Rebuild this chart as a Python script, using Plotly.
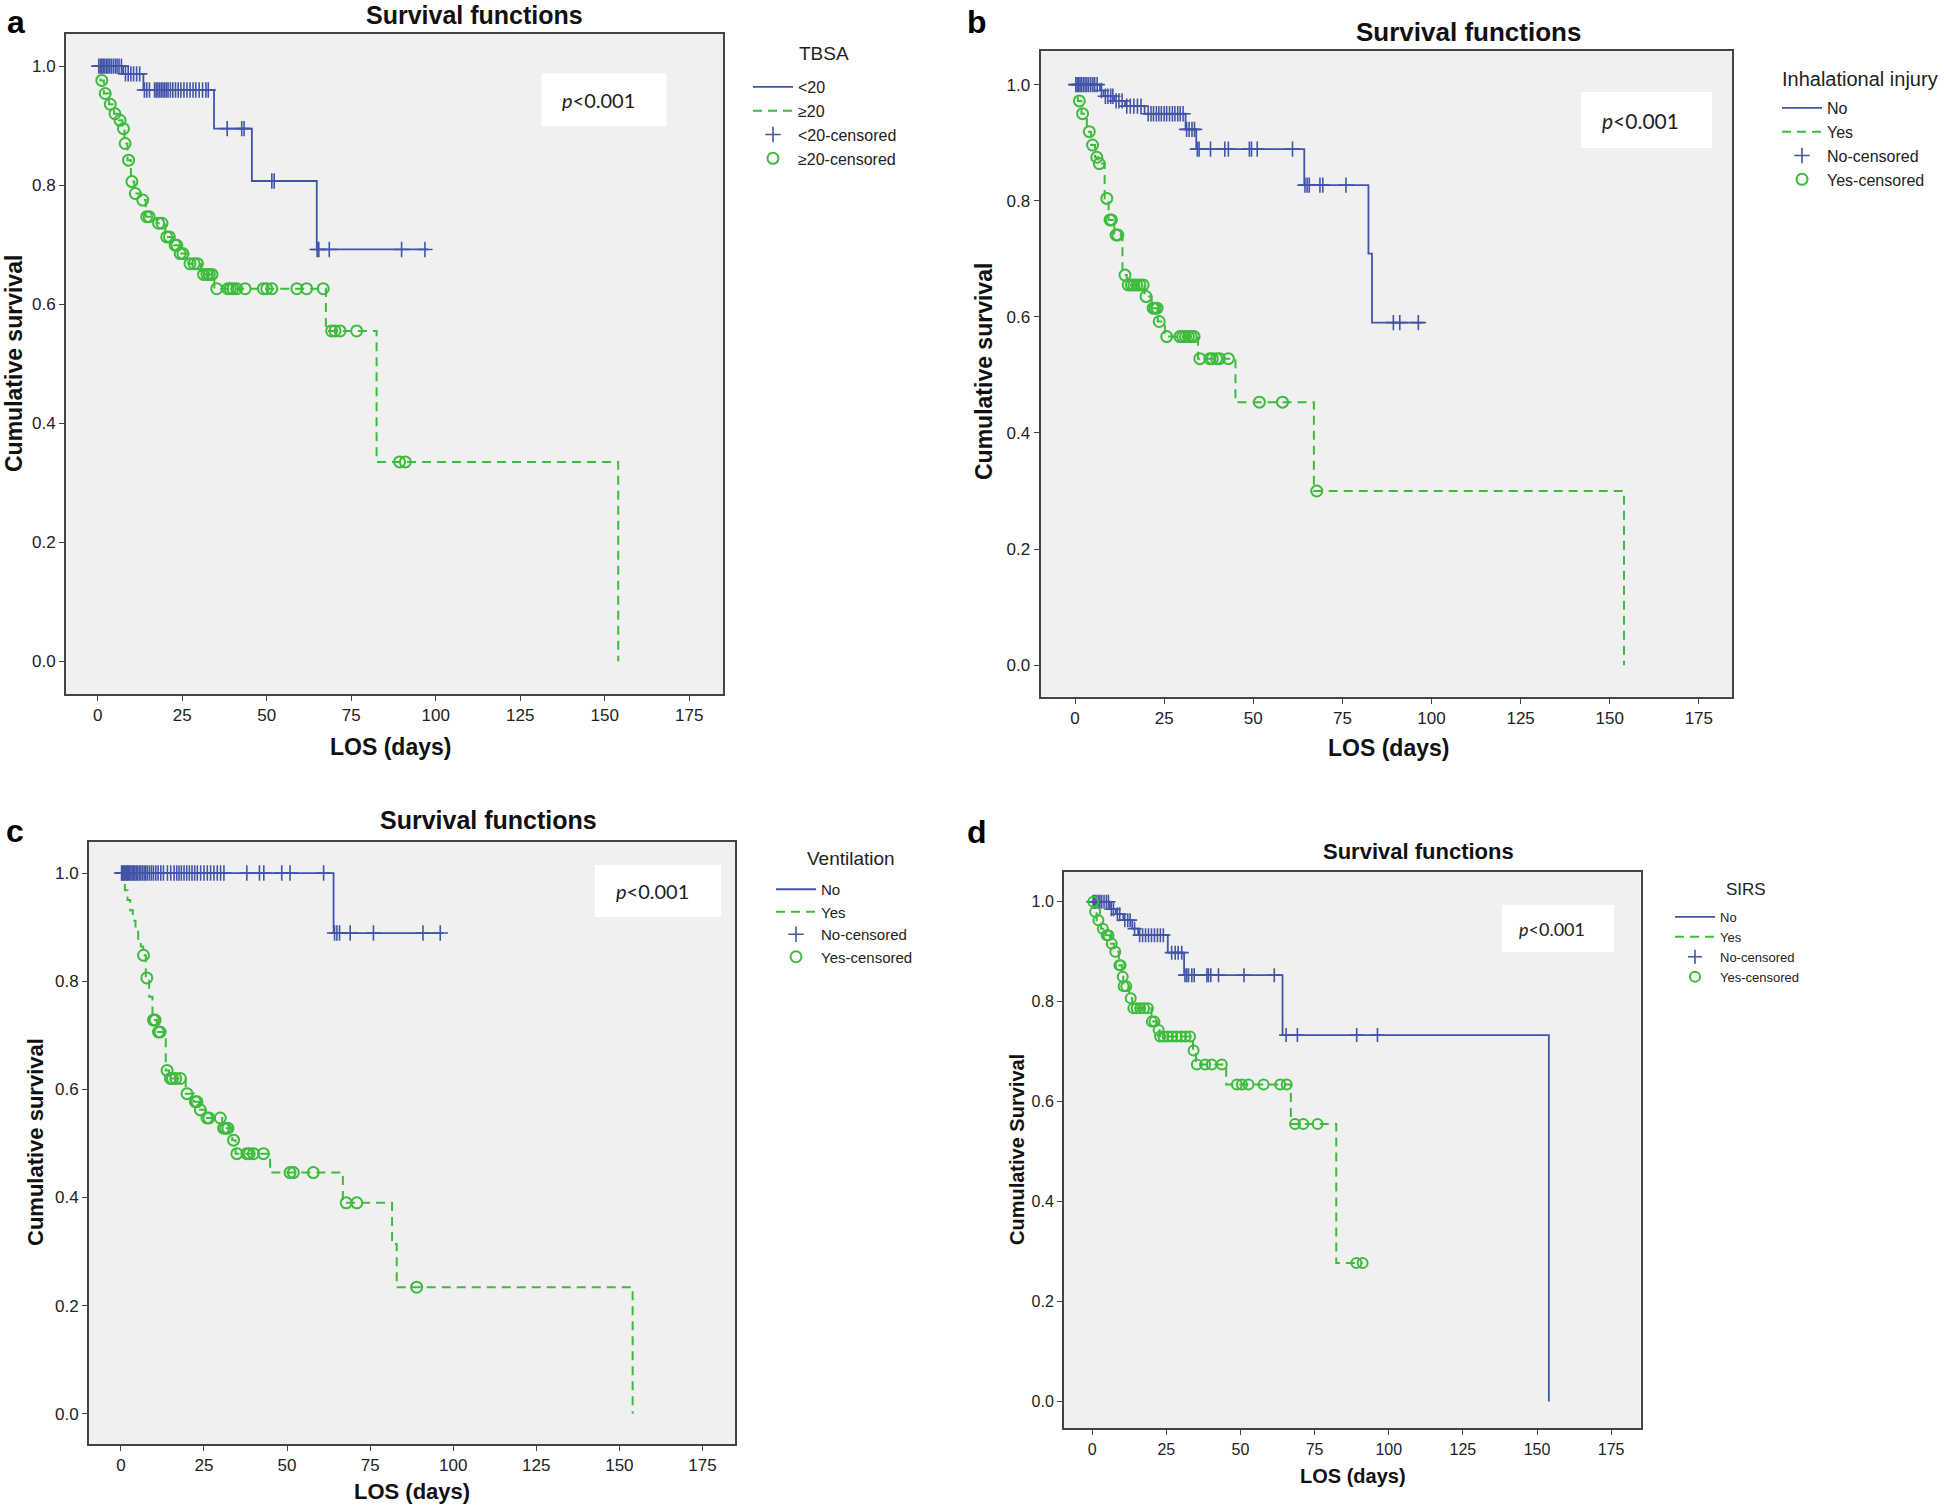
import plotly.graph_objects as go

W, H = 1946, 1508
FONT = "Liberation Sans, Arial, sans-serif"
BLUE = "#4254A8"
GREEN = "#3DBB3D"

# ---------------- data ----------------
# Panel a : TBSA
a_lt20_t = [7.5, 13.5, 34.4, 45.6, 64.8]
a_lt20_s = [0.987, 0.960, 0.895, 0.807, 0.692]
a_lt20_end = 97.7
a_lt20_cens = [0.3, 0.8, 1.2, 1.6, 2.1, 2.6, 3.0, 3.5, 4.0, 4.6, 5.2, 5.7, 6.3, 7.0,
               8.2, 9.0, 9.8, 10.6, 11.5, 12.4, 13.8, 14.5, 15.3, 16.8, 17.3, 17.8,
               18.3, 18.8, 19.3, 19.8, 20.3, 20.8, 21.5, 22.2, 23.0, 23.8, 24.6, 25.5,
               26.4, 27.3, 28.2, 29.0, 30.0, 31.0, 32.0, 32.7, 38.3, 42.6, 43.3, 51.5,
               52.2, 64.9, 65.4, 68.5, 89.9, 96.8]
a_ge20_t = [0.8, 1.8, 3.3, 4.8, 6.2, 7.3, 7.9, 8.8, 9.8, 10.8, 12.8, 14.2, 17.5, 20.0,
            22.5, 24.0, 26.8, 30.5, 34.5, 67.5, 82.5, 154.0]
a_ge20_s = [0.976, 0.954, 0.936, 0.920, 0.909, 0.895, 0.870, 0.842, 0.806, 0.786, 0.775,
            0.747, 0.736, 0.713, 0.699, 0.685, 0.668, 0.650, 0.626, 0.555, 0.335, 0.0]
a_ge20_end = 154.0
a_ge20_cens = [1.2, 2.2, 3.7, 5.1, 6.6, 7.6, 8.1, 9.1, 10.1, 11.1, 13.3, 14.5, 15.2, 18.0,
               19.0, 20.4, 21.2, 22.9, 23.4, 24.4, 25.2, 27.3, 28.5, 29.5, 31.3, 32.3,
               33.0, 33.8, 35.2, 38.5, 39.2, 40.0, 41.1, 43.6, 49.0, 50.0, 51.5, 58.9,
               61.8, 66.7, 69.2, 70.2, 71.7, 76.6, 89.3, 91.0]

# Panel b : Inhalational injury
b_no_t = [7.0, 8.0, 11.0, 14.0, 19.5, 31.0, 34.0, 64.3, 82.3, 83.3]
b_no_s = [0.990, 0.980, 0.972, 0.963, 0.950, 0.923, 0.889, 0.827, 0.709, 0.590]
b_no_end = 97.7
b_no_cens = [0.2, 0.6, 1.0, 1.4, 1.8, 2.3, 2.8, 3.3, 3.8, 4.4, 5.0, 5.5, 6.2, 7.4, 8.5,
             9.2, 10.0, 10.6, 11.5, 12.3, 13.2, 14.5, 15.5, 16.5, 17.5, 18.5, 20.5, 21.3,
             22.0, 22.8, 23.5, 24.2, 25.0, 25.7, 26.5, 27.3, 28.0, 28.8, 29.5, 30.3,
             31.3, 32.0, 32.8, 33.5, 34.3, 34.8, 38.0, 42.0, 43.0, 48.9, 49.5, 51.1,
             61.0, 64.5, 65.1, 65.7, 68.7, 69.5, 76.0, 89.3, 91.1, 96.3]
b_yes_t = [0.8, 1.8, 3.3, 4.5, 5.6, 6.5, 8.3, 9.4, 11.0, 13.3, 14.5, 19.5, 21.5, 23.2,
           25.2, 34.5, 45.0, 67.0, 154.0]
b_yes_s = [0.972, 0.950, 0.919, 0.896, 0.875, 0.864, 0.804, 0.767, 0.741, 0.672, 0.655,
           0.635, 0.615, 0.592, 0.566, 0.528, 0.453, 0.300, 0.0]
b_yes_end = 154.0
b_yes_cens = [1.2, 2.1, 4.0, 4.9, 6.1, 6.8, 8.9, 9.8, 10.2, 11.5, 12.0, 14.0, 14.9, 15.8,
              16.5, 17.3, 18.2, 19.1, 19.9, 21.9, 22.4, 23.0, 23.6, 25.7, 29.4, 30.2,
              31.0, 31.8, 32.6, 33.4, 35.0, 37.8, 38.5, 39.7, 40.5, 43.0, 51.7, 58.2, 67.8]

# Panel c : Ventilation
c_no_t = [64.0]
c_no_s = [0.889]
c_no_end = 97.0
c_no_cens = [0.2, 0.5, 0.8, 1.1, 1.4, 1.7, 2.0, 2.3, 2.6, 3.0, 3.4, 3.8, 4.2, 4.6, 5.0,
             5.5, 6.0, 6.5, 7.0, 7.5, 8.0, 8.6, 9.2, 9.8, 10.5, 11.2, 12.0, 12.8, 14.0,
             15.0, 16.0, 16.8, 17.5, 18.2, 19.0, 19.8, 20.6, 21.4, 22.2, 23.0, 24.0,
             25.0, 26.0, 27.0, 28.0, 29.0, 30.0, 31.0, 37.9, 41.7, 43.0, 48.4, 50.9,
             61.0, 64.3, 65.0, 65.8, 69.0, 76.0, 90.9, 96.1]
c_yes_t = [0.4, 1.2, 2.0, 2.8, 3.6, 4.4, 5.2, 6.0, 6.7, 7.5, 8.5, 9.5, 10.8, 13.5, 14.5,
           19.5, 22.0, 23.5, 25.5, 30.5, 33.5, 34.5, 44.9, 66.8, 81.6, 83.0, 154.0]
c_yes_s = [0.985, 0.968, 0.950, 0.931, 0.912, 0.895, 0.878, 0.864, 0.848, 0.806, 0.771,
           0.728, 0.706, 0.635, 0.620, 0.592, 0.577, 0.562, 0.547, 0.528, 0.506, 0.481,
           0.446, 0.390, 0.314, 0.234, 0.0]
c_yes_end = 154.0
c_yes_cens = [6.8, 7.8, 9.8, 10.3, 11.3, 11.8, 13.9, 14.9, 15.5, 16.5, 17.9, 19.9, 22.4,
              22.9, 23.9, 25.9, 26.5, 29.9, 30.9, 31.5, 32.2, 33.9, 34.9, 37.9, 38.6,
              39.9, 42.9, 50.9, 51.9, 57.9, 67.8, 71.0, 89.0]

# Panel d : SIRS
d_no_t = [6.0, 8.0, 10.5, 13.5, 15.5, 25.5, 31.0, 64.2, 154.0]
d_no_s = [0.985, 0.975, 0.963, 0.946, 0.933, 0.898, 0.853, 0.733, 0.0]
d_no_end = 154.0
d_no_cens = [0.3, 0.8, 1.3, 2.0, 2.6, 3.2, 4.0, 4.8, 5.5, 6.5, 7.2, 8.5, 9.3, 11.0, 12.0,
             12.8, 14.3, 16.0, 17.0, 18.0, 19.0, 20.0, 21.0, 22.0, 23.0, 24.0, 26.8,
             28.0, 29.0, 30.2, 31.3, 31.9, 32.5, 33.6, 34.4, 38.7, 39.2, 40.0, 42.6,
             51.2, 61.4, 65.4, 69.2, 89.2, 96.2]
d_yes_t = [0.7, 1.5, 3.0, 4.5, 6.0, 7.5, 9.0, 10.0, 10.5, 12.5, 13.5, 20.0, 22.0, 22.7,
           34.0, 35.0, 45.2, 67.0, 82.3]
d_yes_s = [0.980, 0.963, 0.946, 0.933, 0.916, 0.900, 0.873, 0.850, 0.831, 0.807, 0.787,
           0.760, 0.743, 0.730, 0.702, 0.674, 0.634, 0.555, 0.277]
d_yes_end = 91.2
d_yes_cens = [0.4, 1.0, 2.1, 3.6, 4.9, 5.5, 6.6, 7.8, 9.2, 9.6, 10.3, 10.6, 11.5, 13.0,
              13.9, 15.0, 16.2, 17.5, 18.8, 20.1, 21.0, 22.4, 22.9, 24.0, 25.5, 27.0,
              28.5, 30.0, 31.5, 33.0, 34.2, 35.3, 38.1, 40.3, 43.7, 48.8, 50.5, 52.7,
              57.8, 63.4, 65.6, 68.4, 71.2, 76.0, 89.1, 91.2]

x_ticks = [0, 25, 50, 75, 100, 125, 150, 175]
y_ticks = [0.0, 0.2, 0.4, 0.6, 0.8, 1.0]


# ---------------- helpers ----------------
def step_xy(ts, ss, t_end):
    xs = [0.0] + list(ts)
    ys = [1.0] + list(ss)
    if t_end > xs[-1]:
        xs.append(t_end)
        ys.append(ys[-1])
    return xs, ys


def surv_at(t, ts, ss):
    s = 1.0
    for te, se in zip(ts, ss):
        if te <= t:
            s = se
    return s


def px_x(p):
    return p / W


def px_y(p):
    return 1 - p / H


panels = [
    dict(key="", legend="legend", group="TBSA",
         names=["&lt;20", "≥20", "&lt;20-censored", "≥20-censored"],
         g1=(a_lt20_t, a_lt20_s, a_lt20_end, a_lt20_cens),
         g2=(a_ge20_t, a_ge20_s, a_ge20_end, a_ge20_cens),
         box=(66, 723, 34, 694), xr=[-9.4, 185.0], yr=[-0.055, 1.054],
         letter=(16, 22), title=(474, 15), ytitle_pos=(14, 364), xtitle_pos=(390, 747),
         ytitle="Cumulative survival", pbox=(604, 99.7, 125, 53), pfont=20,
         leg=(748, 70), legt=(824, 53), fs=17, lfs=16, ltfs=19, tfs=25, afs=23, ms=11),
    dict(key="2", legend="legend2", group="Inhalational injury",
         names=["No", "Yes", "No-censored", "Yes-censored"],
         g1=(b_no_t, b_no_s, b_no_end, b_no_cens),
         g2=(b_yes_t, b_yes_s, b_yes_end, b_yes_cens),
         box=(1040.5, 1732, 51, 696.5), xr=[-9.7, 184.3], yr=[-0.054, 1.058],
         letter=(977, 22), title=(1468, 32), ytitle_pos=(984, 372), xtitle_pos=(1388, 748),
         ytitle="Cumulative survival", pbox=(1646.5, 120, 131, 56), pfont=21,
         leg=(1777, 91), legt=(1860, 79), fs=17, lfs=16, ltfs=20, tfs=26, afs=23, ms=11),
    dict(key="3", legend="legend3", group="Ventilation",
         names=["No", "Yes", "No-censored", "Yes-censored"],
         g1=(c_no_t, c_no_s, c_no_end, c_no_cens),
         g2=(c_yes_t, c_yes_s, c_yes_end, c_yes_cens),
         box=(89, 735, 841.7, 1444), xr=[-9.6, 184.8], yr=[-0.056, 1.058],
         letter=(15, 831), title=(488, 820), ytitle_pos=(35, 1142), xtitle_pos=(412, 1491),
         ytitle="Cumulative survival", pbox=(658, 891, 126, 52), pfont=20,
         leg=(771, 873), legt=(851, 859), fs=17, lfs=15, ltfs=19, tfs=25, afs=22, ms=11),
    dict(key="4", legend="legend4", group="SIRS",
         names=["No", "Yes", "No-censored", "Yes-censored"],
         g1=(d_no_t, d_no_s, d_no_end, d_no_cens),
         g2=(d_yes_t, d_yes_s, d_yes_end, d_yes_cens),
         box=(1064, 1640.5, 872.2, 1428.4), xr=[-9.5, 184.9], yr=[-0.054, 1.059],
         letter=(977, 832), title=(1418, 851), ytitle_pos=(1017, 1150), xtitle_pos=(1353, 1476),
         ytitle="Cumulative Survival", pbox=(1558, 928.5, 112, 47), pfont=18,
         leg=(1670, 902), legt=(1746, 889), fs=16, lfs=13, ltfs=17, tfs=22, afs=20, ms=10),
]

fig = go.Figure()
layout = dict(
    width=W, height=H,
    margin=dict(l=0, r=0, t=0, b=0),
    paper_bgcolor="white",
    plot_bgcolor="#F0F0F0",
    font=dict(family=FONT, color="#222"),
    annotations=[],
    shapes=[],
)

for i, p in enumerate(panels):
    xa = "x" + p["key"]
    ya = "y" + p["key"]
    t1, s1, e1, c1 = p["g1"]
    t2, s2, e2, c2 = p["g2"]
    x1, y1 = step_xy(t1, s1, e1)
    x2, y2 = step_xy(t2, s2, e2)
    ms = p["ms"]
    fig.add_trace(go.Scatter(x=x1, y=y1, mode="lines", line_shape="hv",
                             line=dict(color=BLUE, width=1.8), name=p["names"][0],
                             xaxis=xa, yaxis=ya, legend=p["legend"]))
    fig.add_trace(go.Scatter(x=x2, y=y2, mode="lines", line_shape="hv",
                             line=dict(color=GREEN, width=2, dash="9px,6px"),
                             name=p["names"][1], xaxis=xa, yaxis=ya, legend=p["legend"]))
    fig.add_trace(go.Scatter(x=c1, y=[surv_at(t, t1, s1) for t in c1], mode="markers",
                             marker=dict(symbol="cross-thin-open", size=ms, color=BLUE,
                                         line=dict(color=BLUE, width=1.6)),
                             name=p["names"][2], xaxis=xa, yaxis=ya, legend=p["legend"]))
    fig.add_trace(go.Scatter(x=c2, y=[surv_at(t, t2, s2) for t in c2], mode="markers",
                             marker=dict(symbol="circle-open", size=ms, color=GREEN,
                                         line=dict(color=GREEN, width=2)),
                             name=p["names"][3], xaxis=xa, yaxis=ya, legend=p["legend"]))

    l, r, t, b = p["box"]
    axcommon = dict(showgrid=False, zeroline=False, showline=True, mirror=True,
                    linecolor="#444", linewidth=2, ticks="outside", ticklen=5,
                    tickcolor="#444", tickwidth=1,
                    tickfont=dict(family=FONT, size=p["fs"], color="#222"))
    layout["xaxis" + p["key"]] = dict(axcommon, domain=[px_x(l), px_x(r)], range=p["xr"],
                                      tickvals=x_ticks, anchor=ya)
    layout["yaxis" + p["key"]] = dict(axcommon, domain=[px_y(b), px_y(t)], range=p["yr"],
                                      tickvals=y_ticks, tickformat=".1f", anchor=xa)

    lx, ly = p["leg"]
    layout[p["legend"]] = dict(
        x=px_x(lx), y=px_y(ly), xanchor="left", yanchor="top", xref="paper", yref="paper",
        bgcolor="rgba(0,0,0,0)", borderwidth=0,
        font=dict(family=FONT, size=p["lfs"], color="#222"),
        itemwidth=40, tracegroupgap=0,
    )

    ann = layout["annotations"]
    ann.append(dict(text=p["group"], x=px_x(p["legt"][0]), y=px_y(p["legt"][1]),
                    xref="paper", yref="paper", showarrow=False,
                    font=dict(family=FONT, size=p["ltfs"], color="#222"),
                    xanchor="center", yanchor="middle"))
    ann.append(dict(text="<b>" + "abcd"[i] + "</b>", x=px_x(p["letter"][0]),
                    y=px_y(p["letter"][1]), xref="paper", yref="paper", showarrow=False,
                    font=dict(family=FONT, size=32, color="black"),
                    xanchor="center", yanchor="middle"))
    ann.append(dict(text="<b>Survival functions</b>", x=px_x(p["title"][0]),
                    y=px_y(p["title"][1]), xref="paper", yref="paper", showarrow=False,
                    font=dict(family=FONT, size=p["tfs"], color="#111"),
                    xanchor="center", yanchor="middle"))
    ann.append(dict(text="<b>" + p["ytitle"] + "</b>", x=px_x(p["ytitle_pos"][0]),
                    y=px_y(p["ytitle_pos"][1]), xref="paper", yref="paper", showarrow=False,
                    textangle=-90, font=dict(family=FONT, size=p["afs"], color="#111"),
                    xanchor="center", yanchor="middle"))
    ann.append(dict(text="<b>LOS (days)</b>", x=px_x(p["xtitle_pos"][0]),
                    y=px_y(p["xtitle_pos"][1]), xref="paper", yref="paper", showarrow=False,
                    font=dict(family=FONT, size=p["afs"], color="#111"),
                    xanchor="center", yanchor="middle"))
    cx, cy, bw, bh = p["pbox"]
    layout["shapes"].append(dict(type="rect", xref="paper", yref="paper",
                                 x0=px_x(cx - bw / 2), x1=px_x(cx + bw / 2),
                                 y0=px_y(cy + bh / 2), y1=px_y(cy - bh / 2),
                                 fillcolor="white", line=dict(width=0), layer="above"))
    ann.append(dict(text="<i>p</i>&lt;0.001", x=px_x(cx - 6), y=px_y(cy), xref="paper",
                    yref="paper", showarrow=False,
                    font=dict(family="Lato, Open Sans, sans-serif", size=p["pfont"],
                              color="#222"),
                    xanchor="center", yanchor="middle"))

fig.update_layout(**layout)
fig.write_html("out.html",
               config={"displayModeBar": False},
               post_script="document.body.style.margin='0px';"
                           "document.body.style.overflow='hidden';")
